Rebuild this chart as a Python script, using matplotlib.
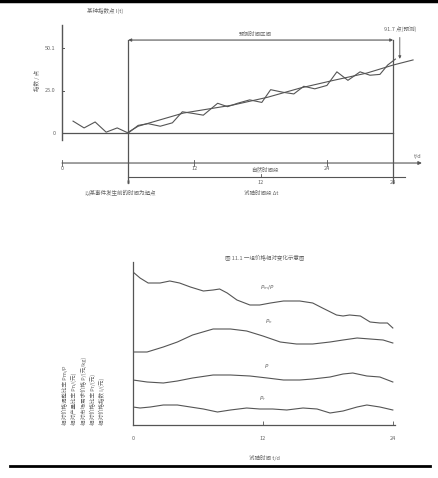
import matplotlib
matplotlib.use("Agg")
import matplotlib.pyplot as plt

plt.rcParams['font.family'] = ['Noto Sans CJK SC', 'DejaVu Sans']

# top panel: index before / during the test period (days, points)
idx_days = [-5, -4, -3, -2, -1, 0, 0.9, 1.8, 2.9, 4, 4.9, 5.9, 6.8, 8.1, 9, 9.9,
            11, 12.1, 12.9, 14, 15, 15.9, 16.9, 18, 18.9, 19.9, 21, 21.9, 22.8, 23.5, 24.2]
idx_vals = [14, 6, 13, 1, 6, 0, 9, 11, 8, 12, 25, 23, 21, 35, 31, 35,
            39, 36, 51, 48, 46, 55, 52, 56, 72, 62, 72, 68, 69, 80, 87]
trend_days = [0, 0.9, 5, 9.5, 12.6, 15.6, 18.6, 21.6, 24, 25.8]
trend_vals = [1, 8, 23.5, 33, 42, 53, 62, 70.5, 80, 86]
y_ticks = [0, 50, 100]
y_tick_labels = ["0", "25.0", "50.1"]
scale_ticks = [0, 12, 24]

# bottom panel: four relative curves
pm_x = [0, 0.65, 1.4, 2.5, 3.4, 4.3, 5.3, 6.5, 7.4, 8, 8.7, 9.6, 10.8, 11.7, 12.7,
        13.9, 15.4, 16.6, 17.5, 18.8, 19.4, 20, 21, 21.9, 22.8, 23.5, 24]
pm_y = [153, 147, 142, 142, 144, 142, 138, 134, 135, 136, 132, 125, 120, 120, 122,
        124, 124, 122, 117, 110, 109, 110, 109, 103, 102, 102, 97]
pn_x = [0, 1.3, 2.8, 4.1, 5.5, 7.4, 9, 10.5, 12, 13.6, 15.1, 16.6, 18.2, 19.4, 20.7, 21.9, 23.1, 24]
pn_y = [73, 73, 78, 83, 90, 96, 96, 94, 89, 83, 81, 81, 83, 85, 87, 86, 85, 82]
p_x = [0, 1.3, 2.8, 4.1, 5.5, 7.4, 9, 10.8, 12.4, 13.9, 15.4, 16.6, 18.2, 19.4, 20.3, 21.6, 22.8, 24]
p_y = [45, 43, 42, 44, 47, 50, 50, 49, 47, 45, 45, 46, 48, 51, 52, 49, 48, 43]
pr_x = [0, 0.65, 1.6, 2.8, 4.1, 5.3, 6.5, 7.8, 9, 10.5, 11.7, 12.9, 14.2, 15.7,
        17, 18.2, 19.4, 20.7, 21.6, 22.8, 24]
pr_y = [18, 17, 18, 20, 20, 18, 16, 13, 15, 17, 16, 16, 15, 17,
        16, 12, 14, 18, 20, 18, 15]

W, H = 439, 478
LC = '#555555'
TC = '#666666'
fs = 4

fig = plt.figure(figsize=(W / 100, H / 100), dpi=100)

# ---- top panel ----
ax = fig.add_axes([62 / W, 1 - 201 / H, 364.3 / W, 181 / H])
ax.set_xlim(-6, 27)
ax.set_ylim(-80, 133)
ax.axis('off')

ax.plot(idx_days, idx_vals, color=LC, lw=0.8)
ax.plot(trend_days, trend_vals, color=LC, lw=0.8)

# axes drawn by hand
ax.plot([-6, -6], [-8, 127], color=LC, lw=1.0, clip_on=False)
ax.plot([-6, 24], [0, 0], color=LC, lw=0.9)
for yv, lab in zip(y_ticks, y_tick_labels):
    ax.plot([-6.3, -5.8], [yv, yv], color=LC, lw=0.7)
    ax.text(-6.6, yv, lab, fontsize=fs, color=TC, ha='right', va='center')
ax.text(-8.3, 62, "指数 / 点", fontsize=fs, color=TC, rotation=90, ha='center', va='center')
ax.text(-2.1, 144, "某种指数点 I(t)", fontsize=fs, color=TC, ha='center', va='center', clip_on=False)

for xv in (0, 24):
    ax.plot([xv, xv], [-59, 109.4], color=LC, lw=0.9)
ax.annotate('', xy=(24, 109.4), xytext=(0, 109.4),
            arrowprops=dict(arrowstyle='<|-|>', color=LC, lw=0.8, mutation_scale=4,
                            shrinkA=0, shrinkB=0))
ax.text(11.5, 113, "预测时间区间", fontsize=fs, color=TC, ha='center', va='bottom')
ax.annotate("91.7 点(预测)", xy=(24.6, 84), xytext=(24.6, 119),
            fontsize=fs, color=TC, ha='center', va='bottom',
            arrowprops=dict(arrowstyle='-|>', color=LC, lw=0.6, mutation_scale=4))

# natural time scale
ax.annotate('', xy=(26.6, -35.3), xytext=(-6, -35.3),
            arrowprops=dict(arrowstyle='-|>', color=LC, lw=0.8, mutation_scale=5,
                            shrinkA=0, shrinkB=0))
for t in scale_ticks:
    xv = t - 6
    ax.plot([xv, xv], [-32, -38.5], color=LC, lw=0.6)
    ax.text(xv, -39, str(t), fontsize=fs, color=TC, ha='center', va='top')
ax.text(12.4, -40, "自然时间段", fontsize=fs, color=TC, ha='center', va='top')
ax.text(26.2, -30, "t/d", fontsize=fs, color=TC, ha='center', va='bottom')

# test time scale
ax.plot([0, 25.1], [-51.8, -51.8], color=LC, lw=0.8)
for t in scale_ticks:
    ax.plot([t, t], [-48.5, -51.8], color=LC, lw=0.6)
    ax.text(t, -55, str(t), fontsize=fs, color=TC, ha='center', va='top')
ax.text(-0.7, -70.6, "以某事件发生前的时间为起点", fontsize=fs, color=TC, ha='center', va='center')
ax.text(12, -70.6, "试验时间段 Δt", fontsize=fs, color=TC, ha='center', va='center')

# ---- bottom panel ----
bx = fig.add_axes([133 / W, 1 - 425 / H, 262 / W, 163 / H])
bx.set_xlim(0, 24.2)
bx.set_ylim(0, 163)
for s in ('top', 'right'):
    bx.spines[s].set_visible(False)
for s in ('left', 'bottom'):
    bx.spines[s].set_color(LC)
    bx.spines[s].set_linewidth(0.9)
bx.set_yticks([])
bx.set_xticks(scale_ticks)
bx.tick_params(axis='x', direction='in', length=3, width=0.6, color=LC,
               labelsize=fs, labelcolor=TC, pad=8)

for xs, ys in ((pm_x, pm_y), (pn_x, pn_y), (p_x, p_y), (pr_x, pr_y)):
    bx.plot(xs, ys, color=LC, lw=0.8)

bx.text(12.4, 137, r"$P_m/P$", fontsize=fs, color=TC, ha='center', va='center')
bx.text(12.5, 103, r"$P_n$", fontsize=fs, color=TC, ha='center', va='center')
bx.text(12.3, 59, r"$P$", fontsize=fs, color=TC, ha='center', va='center')
bx.text(12.0, 26, r"$P_r$", fontsize=fs, color=TC, ha='center', va='center')
bx.text(12.2, 168, "图 11.1 一组价格相对变化示意图", fontsize=fs, color=TC,
        ha='center', va='center', clip_on=False)
bx.set_xlabel("试验时间 t/d", fontsize=fs, color=TC, labelpad=10)

ylab = ["相对价格调整比率 Pm/P",
        "相对产量比率 Pn/(元)",
        "相对市场需求价格 P/(元/kg)",
        "相对价格比率 Pr/(元)",
        "相对价格指数 I/(元)"]
for i, s in enumerate(ylab):
    fig.text((65 + i * 9.3) / W, 1 - 425 / H, s, fontsize=fs, color=TC,
             rotation=90, ha='center', va='bottom')

# page rules
fig.add_artist(plt.Line2D([0, 1], [1 - 1 / H, 1 - 1 / H], color='black', lw=2.5))
fig.add_artist(plt.Line2D([10 / W, 430 / W], [1 - 466 / H, 1 - 466 / H], color='black', lw=2))

fig.savefig("out.png", dpi=100)
